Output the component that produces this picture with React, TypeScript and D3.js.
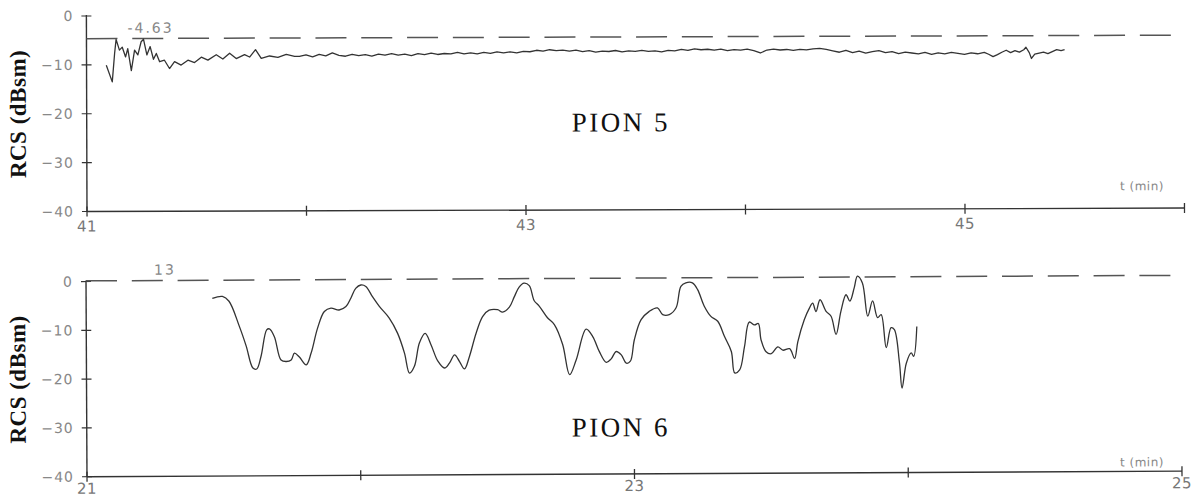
import React, { useRef, useEffect } from "react";
import * as d3 from "d3";

// PION 5 record: [time (min), RCS (dBsm)]
const pion5: [number, number][] = [
  [41.09, -10.1], [41.117, -13.5], [41.128, -7.7], [41.135, -4.8], [41.15, -7.0],
  [41.163, -6.4], [41.178, -8.4], [41.188, -6.7], [41.204, -11.2], [41.219, -7.0],
  [41.234, -8.0], [41.249, -5.3], [41.26, -4.8], [41.275, -8.0], [41.29, -6.3],
  [41.305, -8.9], [41.318, -7.7], [41.333, -9.4], [41.355, -9.1], [41.378, -10.8],
  [41.401, -9.4], [41.431, -10.1], [41.462, -9.1], [41.492, -9.6], [41.523, -8.5],
  [41.553, -9.1], [41.591, -8.0], [41.621, -8.9], [41.652, -7.7], [41.682, -8.8],
  [41.72, -8.0], [41.743, -8.5], [41.77, -7.0], [41.796, -8.8], [41.834, -8.3],
  [41.872, -8.6], [41.91, -8.0], [41.948, -8.4],
  [41.97, -8.4], [42.0, -8.1], [42.03, -8.5], [42.06, -8.0], [42.09, -8.3],
  [42.12, -7.7], [42.15, -8.2], [42.18, -8.4], [42.21, -8.0], [42.24, -8.3],
  [42.27, -8.1], [42.3, -8.4], [42.33, -8.0], [42.36, -8.2], [42.39, -7.9],
  [42.42, -8.2], [42.45, -8.0], [42.48, -8.3], [42.51, -7.9], [42.54, -8.1],
  [42.57, -7.8], [42.6, -8.1], [42.63, -7.9], [42.66, -8.0], [42.69, -7.7],
  [42.72, -8.0], [42.75, -7.8], [42.78, -8.0], [42.81, -7.7], [42.84, -7.9],
  [42.87, -7.6], [42.9, -7.8], [42.93, -7.6], [42.96, -7.8], [42.99, -7.5],
  [43.02, -7.6], [43.05, -7.3], [43.08, -7.5], [43.11, -7.2], [43.14, -7.4],
  [43.17, -7.3], [43.2, -7.5], [43.23, -7.3], [43.26, -7.6], [43.29, -7.4],
  [43.32, -7.7], [43.35, -7.5], [43.38, -7.6], [43.41, -7.4], [43.44, -7.7],
  [43.47, -7.5], [43.5, -7.6], [43.53, -7.4], [43.56, -7.6], [43.59, -7.5],
  [43.62, -7.7], [43.65, -7.4], [43.68, -7.5], [43.71, -7.2], [43.74, -7.4],
  [43.77, -7.1], [43.8, -7.3], [43.83, -7.2], [43.86, -7.4], [43.89, -7.2],
  [43.92, -7.5], [43.95, -7.3], [43.98, -7.4], [44.01, -7.2], [44.04, -7.5],
  [44.07, -8.0], [44.1, -7.4], [44.13, -7.2], [44.16, -7.4], [44.19, -7.3],
  [44.22, -7.5], [44.25, -7.3], [44.28, -7.4], [44.31, -7.2], [44.34, -7.1],
  [44.37, -7.3], [44.4, -7.6], [44.43, -7.9], [44.46, -7.5], [44.49, -8.0],
  [44.52, -7.7], [44.55, -8.1], [44.58, -7.8], [44.61, -7.6], [44.64, -8.0],
  [44.67, -7.8], [44.7, -8.2], [44.73, -7.9], [44.76, -8.1], [44.79, -8.3],
  [44.82, -8.0], [44.85, -8.4], [44.88, -8.1], [44.91, -8.3], [44.94, -8.0],
  [44.97, -8.2], [45.0, -8.4], [45.03, -8.1], [45.06, -8.3], [45.09, -8.0],
  [45.11, -8.4], [45.13, -8.9], [45.15, -8.5], [45.17, -8.0], [45.19, -7.6],
  [45.21, -8.1], [45.23, -7.7], [45.25, -8.0], [45.27, -7.5], [45.28, -7.0],
  [45.295, -8.1], [45.305, -9.3], [45.32, -8.4], [45.34, -8.2], [45.36, -8.0],
  [45.38, -8.3], [45.4, -7.9], [45.42, -7.5], [45.44, -7.7], [45.456, -7.5],
];

// PION 6 record: [time (min), RCS (dBsm)]
const pion6: [number, number][] = [
  [21.461, -3.6], [21.498, -3.2], [21.522, -4.2], [21.559, -9.3], [21.584, -13.4],
  [21.608, -17.9], [21.622, -18.1], [21.638, -15.5], [21.659, -10.1], [21.669, -9.9],
  [21.687, -11.5], [21.711, -16.3], [21.73, -16.6], [21.748, -16.3], [21.76, -14.9],
  [21.778, -15.7], [21.803, -17.3], [21.821, -14.9], [21.845, -9.8], [21.87, -6.4],
  [21.894, -5.7], [21.924, -6.1], [21.949, -5.4], [21.967, -3.7], [21.985, -1.7],
  [22.004, -1.0], [22.022, -1.3], [22.046, -3.4], [22.071, -5.4], [22.107, -7.8],
  [22.137, -10.9], [22.162, -15.0], [22.18, -19.1], [22.198, -17.7], [22.217, -12.9],
  [22.238, -11.0], [22.259, -13.3], [22.284, -16.7], [22.308, -18.1], [22.326, -17.1],
  [22.345, -15.4], [22.363, -16.8], [22.381, -18.3], [22.399, -15.8], [22.424, -11.0],
  [22.448, -7.6], [22.472, -6.3], [22.503, -6.2], [22.521, -6.7], [22.546, -5.7],
  [22.564, -3.6], [22.582, -1.6], [22.6, -0.8], [22.619, -1.3], [22.637, -4.4],
  [22.655, -5.5], [22.685, -7.9], [22.71, -9.3], [22.74, -13.4], [22.765, -19.6],
  [22.789, -16.6], [22.826, -10.3], [22.85, -11.8], [22.874, -14.9], [22.899, -17.1],
  [22.917, -16.4], [22.935, -14.9], [22.954, -15.6], [22.972, -17.3], [22.987, -16.9],
  [23.002, -12.5], [23.027, -8.4], [23.057, -6.7], [23.087, -6.0], [23.106, -7.4],
  [23.13, -7.4], [23.155, -6.0], [23.173, -1.6], [23.191, -0.9], [23.215, -0.9],
  [23.234, -2.3], [23.258, -5.7], [23.282, -7.8], [23.307, -8.8], [23.331, -11.9],
  [23.356, -15.0], [23.368, -19.4], [23.386, -18.8], [23.404, -14.1], [23.422, -9.0],
  [23.441, -9.6], [23.455, -9.3], [23.465, -12.7], [23.483, -15.1], [23.502, -15.5],
  [23.526, -14.1], [23.544, -14.8], [23.569, -14.5], [23.587, -16.5], [23.599, -13.1],
  [23.623, -8.6], [23.642, -6.2], [23.654, -5.2], [23.666, -6.9], [23.681, -4.5],
  [23.703, -6.9], [23.721, -7.9], [23.739, -11.6], [23.757, -6.9], [23.776, -3.5],
  [23.79, -4.8], [23.806, -2.1], [23.818, 0.3], [23.836, -1.1], [23.855, -7.9],
  [23.873, -4.8], [23.891, -8.2], [23.904, -7.6], [23.922, -14.4], [23.94, -10.3],
  [23.952, -10.7], [23.97, -17.5], [23.979, -22.7], [23.995, -17.6], [24.013, -15.5],
  [24.022, -16.2], [24.034, -10.1],
];

const rcsTicks = [0, -10, -20, -30, -40];
const pion5Ticks = [41, 42, 43, 44, 45, 46];
const pion5TickLabels = ["41", "", "43", "", "45", ""];
const pion6Ticks = [21, 22, 23, 24, 25];
const pion6TickLabels = ["21", "", "23", "", "25"];
const pion5Peak = -4.63;
const pion6Peak = 0.13;
const pion5PeakLabel = "-4.63";
const pion6PeakLabel = "13";

const plotFont = "'DejaVu Sans', sans-serif";
const serifFont = "'Liberation Serif', 'Times New Roman', serif";

const App = () => {
  const svgRef = useRef(null);

  useEffect(() => {
    const svg = d3.select(svgRef.current);
    svg.selectAll("*").remove();

    const panels = [
      {
        data: pion5, ticks: pion5Ticks, tickLabels: pion5TickLabels,
        peak: pion5Peak, peakLabel: pion5PeakLabel, peakLabelX: 128, peakLabelY: 33,
        title: "PION 5", titleY: 133,
        xEnd: 1184.5, yTop: 16, yBot: 211.5, tilt: -0.18,
        tickLabelDy: 20, unitDy: -18, curve: d3.curveLinear,
      },
      {
        data: pion6, ticks: pion6Ticks, tickLabels: pion6TickLabels,
        peak: pion6Peak, peakLabel: pion6PeakLabel, peakLabelX: 155, peakLabelY: 275,
        title: "PION 6", titleY: 439,
        xEnd: 1182, yTop: 281.5, yBot: 476.7, tilt: -0.29,
        tickLabelDy: 17, unitDy: -5, curve: d3.curveCatmullRom.alpha(0.5),
      },
    ];

    panels.forEach((p) => {
      const left = 87;
      const x = d3
        .scaleLinear()
        .domain([p.ticks[0], p.ticks[p.ticks.length - 1]])
        .range([left, p.xEnd]);
      const y = d3.scaleLinear().domain([-40, 0]).range([p.yBot, p.yTop]);

      const g = svg
        .append("g")
        .attr("transform", `rotate(${p.tilt}, ${left}, ${p.yBot})`);

      // axes
      g.append("line")
        .attr("x1", left).attr("x2", left)
        .attr("y1", p.yTop - 1).attr("y2", p.yBot)
        .attr("stroke", "#333").attr("stroke-width", 1.4);
      g.append("line")
        .attr("x1", left).attr("x2", p.xEnd)
        .attr("y1", p.yBot).attr("y2", p.yBot)
        .attr("stroke", "#333").attr("stroke-width", 1.4);

      // y ticks
      g.selectAll(".yt")
        .data(rcsTicks)
        .enter()
        .append("line")
        .attr("x1", left - 5).attr("x2", left + 5)
        .attr("y1", (d) => y(d)).attr("y2", (d) => y(d))
        .attr("stroke", "#333").attr("stroke-width", 1.2);
      g.selectAll(".yl")
        .data(rcsTicks)
        .enter()
        .append("text")
        .attr("x", left - 13)
        .attr("y", (d) => y(d))
        .attr("dy", "0.36em")
        .attr("text-anchor", "end")
        .attr("font-family", plotFont)
        .attr("font-size", 14)
        .attr("letter-spacing", 1)
        .attr("fill", "#888")
        .text((d) => (d === 0 ? "0" : `\u2212${Math.abs(d)}`));

      // x ticks
      g.selectAll(".xt")
        .data(p.ticks)
        .enter()
        .append("line")
        .attr("x1", (d) => x(d)).attr("x2", (d) => x(d))
        .attr("y1", p.yBot - 5).attr("y2", p.yBot + 5)
        .attr("stroke", "#333").attr("stroke-width", 1.3);
      g.selectAll(".xl")
        .data(p.ticks)
        .enter()
        .append("text")
        .attr("x", (d) => x(d))
        .attr("y", p.yBot + p.tickLabelDy)
        .attr("text-anchor", "middle")
        .attr("font-family", plotFont)
        .attr("font-size", 15)
        .attr("letter-spacing", 0.5)
        .attr("fill", "#777")
        .text((d, i) => p.tickLabels[i]);

      // peak level
      g.append("line")
        .attr("x1", left).attr("x2", p.xEnd)
        .attr("y1", y(p.peak)).attr("y2", y(p.peak))
        .attr("stroke", "#555").attr("stroke-width", 1.5)
        .attr("stroke-dasharray", "31,14.8");
      g.append("text")
        .attr("x", p.peakLabelX)
        .attr("y", p.peakLabelY)
        .attr("font-family", plotFont)
        .attr("font-size", 14)
        .attr("letter-spacing", 2)
        .attr("fill", "#888")
        .text(p.peakLabel);

      // record
      const line = d3
        .line<[number, number]>()
        .x((d) => x(d[0]))
        .y((d) => y(d[1]))
        .curve(p.curve);
      g.append("path")
        .datum(p.data)
        .attr("d", line)
        .attr("fill", "none")
        .attr("stroke", "#333")
        .attr("stroke-width", 1.3)
        .attr("stroke-linejoin", "round");

      // labels
      g.append("text")
        .attr("x", 1120)
        .attr("y", p.yBot + p.unitDy)
        .attr("font-family", plotFont)
        .attr("font-size", 12)
        .attr("letter-spacing", 0.5)
        .attr("fill", "#888")
        .text("t  (min)");
      g.append("text")
        .attr("x", 572)
        .attr("y", p.titleY)
        .attr("font-family", serifFont)
        .attr("font-size", 27)
        .attr("letter-spacing", 2.5)
        .attr("fill", "#111")
        .text(p.title);
      g.append("text")
        .attr("transform", `translate(26, ${(p.yTop + p.yBot) / 2}) rotate(-90)`)
        .attr("text-anchor", "middle")
        .attr("font-family", serifFont)
        .attr("font-weight", "bold")
        .attr("font-size", 23)
        .attr("letter-spacing", 0.5)
        .attr("fill", "#111")
        .text("RCS (dBsm)");
    });
  }, []);

  return (
    <svg
      ref={svgRef}
      width={1195}
      height={497}
      style={{ position: "absolute", left: 0, top: 0, background: "#fff" }}
    ></svg>
  );
};

export default App;
